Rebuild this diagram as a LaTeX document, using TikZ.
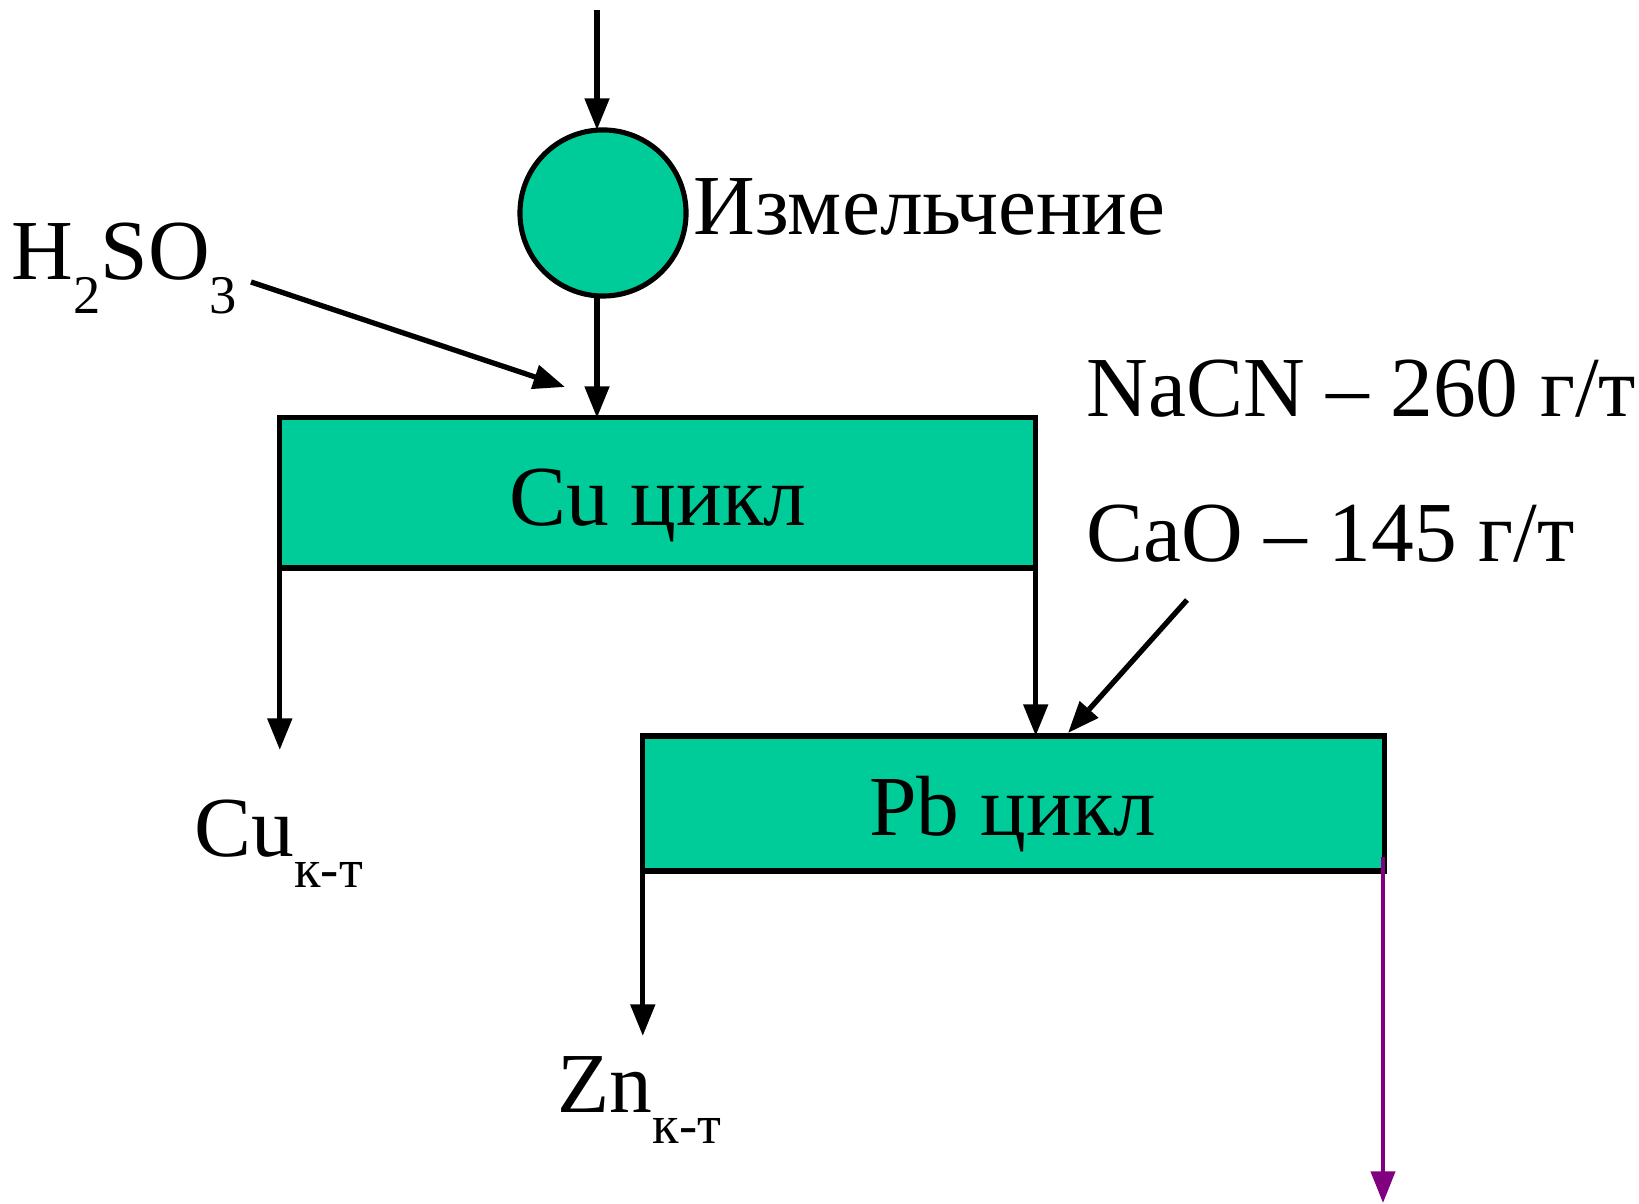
\documentclass[tikz,border=0pt]{standalone}
\usepackage{fontspec}
\setmainfont{Liberation Serif}
\newfontfamily\timesx{Liberation Serif}
\usetikzlibrary{arrows.meta}
\definecolor{procgreen}{RGB}{0,204,153}
\definecolor{outpurple}{RGB}{128,0,128}
\newcommand{\bigtxt}{\timesx\fontsize{24.3}{29}\selectfont}
\newcommand{\lowsub}[2]{\raisebox{-#1}{\fontsize{15.5}{16}\selectfont #2}}
\tikzset{
  flow/.style={line width=1.5pt, -{Triangle[length=9pt,width=6.8pt]}},
  procbox/.style={draw, line width=1.45pt, fill=procgreen, rectangle, inner sep=0pt, outer sep=0pt},
  mill/.style={draw, line width=1.45pt, fill=procgreen, circle, inner sep=0pt, outer sep=0pt, minimum size=1.66cm},
  lbl/.style={inner sep=0pt, anchor=base west, font=\bigtxt},
  boxtxt/.style={inner sep=0pt, anchor=base, font=\bigtxt}
}
\begin{document}
\begin{tikzpicture}[x=0.01cm,y=-0.01cm]
\useasboundingbox (0,0) rectangle (1639,1204);
% nodes
\node[mill] (grind) at (603,213) {};
\node[lbl] (grindlbl) at (693,235) {Измельчение};
\node[procbox, minimum width=7.555cm, minimum height=1.50cm] (cu) at (657.75,493) {};
\node[boxtxt] (cutxt) at (658,526) {Cu цикл};
\node[procbox, minimum width=7.41cm, minimum height=1.35cm] (pb) at (1013.5,803.5) {};
\node[boxtxt] (pbtxt) at (1013,836) {Pb цикл};
\node[lbl] (acid) at (11,280) {H\lowsub{9.4pt}{2}SO\lowsub{9.4pt}{3}};
\node[lbl] (nacn) at (1086,417) {NaCN – 260 г/т};
\node[lbl] (cao) at (1086,562) {CaO – 145 г/т};
\node[lbl] (cuconc) at (194,857) {Cu\lowsub{8.8pt}{к-т}};
\node[lbl] (znconc) at (557,1113) {Zn\lowsub{8.8pt}{к-т}};
% free ends
\coordinate (feed) at (597,10);
\coordinate (acidstart) at (251,282);
\coordinate (acidtip) at (565,387);
\coordinate (caostart) at (1187,600);
\coordinate (caotip) at (1068,733);
\coordinate (cutip) at (280,750);
\coordinate (zntip) at (643,1036);
\coordinate (tailstart) at (1383,857);
\coordinate (tailtip) at (1383,1203);
% connectors
\draw[flow] (feed) -- (feed |- grind.north);
\draw[flow] (feed |- grind.south) -- (feed |- cu.north);
\draw[flow] (acidstart) -- (acidtip);
\draw[flow] (cu.south west) -- (cu.south west |- cutip);
\draw[flow] (cu.south east) -- (cu.south east |- pb.north);
\draw[flow] (caostart) -- (caotip);
\draw[flow] (pb.south west) -- (pb.south west |- zntip);
\draw[flow, outpurple, line width=1.25pt] (tailstart) -- (tailtip);
\end{tikzpicture}
\end{document}
